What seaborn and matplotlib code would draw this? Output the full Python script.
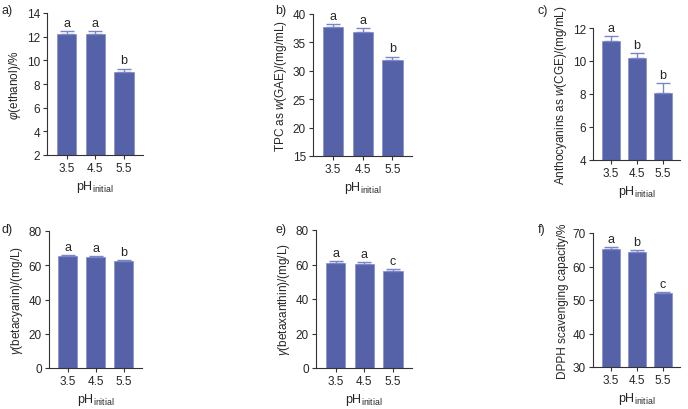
import numpy as np
import pandas as pd
import matplotlib
matplotlib.use('Agg')
import matplotlib.pyplot as plt
import seaborn as sns

# pH levels on the x axis
ph = ['3.5', '4.5', '5.5']

# means, error (SD) and letters for each panel
ethanol = [12.25, 12.2, 9.0]
ethanol_err = [0.25, 0.3, 0.3]
ethanol_sig = ['a', 'a', 'b']

tpc = [37.7, 36.8, 31.9]
tpc_err = [0.5, 0.8, 0.6]
tpc_sig = ['a', 'a', 'b']

antho = [11.2, 10.2, 8.05]
antho_err = [0.3, 0.3, 0.6]
antho_sig = ['a', 'b', 'b']

betacyanin = [65.5, 64.7, 62.5]
betacyanin_err = [0.7, 0.6, 0.7]
betacyanin_sig = ['a', 'a', 'b']

betaxanthin = [60.8, 60.5, 56.5]
betaxanthin_err = [1.0, 0.7, 0.8]
betaxanthin_sig = ['a', 'a', 'c']

dpph = [65.3, 64.4, 52.2]
dpph_err = [0.4, 0.4, 0.3]
dpph_sig = ['a', 'b', 'c']

sns.set_style('ticks')
plt.rcParams['font.family'] = ['Liberation Sans', 'DejaVu Sans']
plt.rcParams['mathtext.fontset'] = 'custom'
plt.rcParams['mathtext.rm'] = 'Liberation Sans'
plt.rcParams['mathtext.it'] = 'Liberation Sans:italic'

bar_color = '#5562a8'
err_color = '#7b86c9'

fig = plt.figure(figsize=(6.88, 4.10), dpi=100)
W, H = 688.0, 410.0


def panel(box, vals, errs, sig, ylim, yticks, ylabel, tag, tagpos):
    left, right, top, bottom = box
    ax = fig.add_axes([left / W, 1 - bottom / H, (right - left) / W, (bottom - top) / H])
    df = pd.DataFrame({'pH': ph, 'val': vals})
    sns.barplot(data=df, x='pH', y='val', color=bar_color, saturation=1,
                width=0.68, errorbar=None, edgecolor='#8a93cf', linewidth=0.6, ax=ax)
    x = np.arange(len(ph))
    ax.errorbar(x, vals, yerr=[np.zeros(len(errs)), errs], fmt='none',
                ecolor=err_color, elinewidth=1.0, capsize=5, capthick=1.0)
    span = ylim[1] - ylim[0]
    for xi, v, e, s in zip(x, vals, errs, sig):
        ax.text(xi, v + e + span * 0.015, s, ha='center', va='bottom', fontsize=9)
    ax.set_xlim(-0.68, 2.66)
    ax.set_ylim(*ylim)
    ax.set_yticks(yticks)
    ax.set_ylabel(ylabel, fontsize=8.5, labelpad=3)
    ax.set_xlabel('pH$_\\mathregular{initial}$', fontsize=9, labelpad=3)
    ax.tick_params(labelsize=8.5, length=3, width=0.8, color='#333333', pad=2)
    sns.despine(ax=ax)
    for sp in ['left', 'bottom']:
        ax.spines[sp].set_linewidth(0.8)
        ax.spines[sp].set_color('#333333')
    fig.text(tagpos[0] / W, 1 - tagpos[1] / H, tag, fontsize=9, ha='left', va='center')
    return ax


panel((47, 143, 14, 156), ethanol, ethanol_err, ethanol_sig, (2, 14), [2, 4, 6, 8, 10, 12, 14],
      '$\\mathit{φ}$(ethanol)/%', 'a)', (2, 11))
panel((313, 412, 15, 157), tpc, tpc_err, tpc_sig, (15, 40), [15, 20, 25, 30, 35, 40],
      'TPC as $\\mathit{w}$(GAE)/(mg/mL)', 'b)', (275, 11))
panel((593, 680, 29, 161), antho, antho_err, antho_sig, (4, 12), [4, 6, 8, 10, 12],
      'Anthocyanins as $\\mathit{w}$(CGE)/(mg/mL)', 'c)', (538, 11))
panel((49, 142, 232, 369), betacyanin, betacyanin_err, betacyanin_sig, (0, 80), [0, 20, 40, 60, 80],
      '$\\mathit{γ}$(betacyanin)/(mg/L)', 'd)', (2, 230))
panel((316, 412, 231, 369), betaxanthin, betaxanthin_err, betaxanthin_sig, (0, 80), [0, 20, 40, 60, 80],
      '$\\mathit{γ}$(betaxanthin)/(mg/L)', 'e)', (275, 230))
panel((593, 680, 234, 368), dpph, dpph_err, dpph_sig, (30, 70), [30, 40, 50, 60, 70],
      'DPPH scavenging capacity/%', 'f)', (538, 230))

fig.savefig('out.png', dpi=100)
